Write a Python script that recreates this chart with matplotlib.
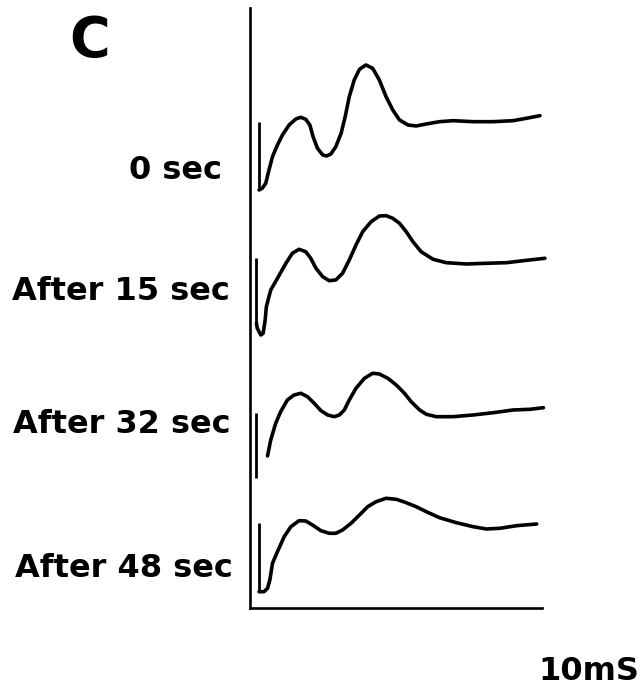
import numpy as np
import matplotlib
matplotlib.use("Agg")
import matplotlib.pyplot as plt

# time (ms) and amplitude (arbitrary units, relative to each trace's baseline)
labels = ["0 sec", "After 15 sec", "After 32 sec", "After 48 sec"]
offsets = [48.6, 34.6, 19.3, 8.3]

# stimulus artifact: time, top, bottom
stim_t = [0.31, 0.22, 0.19, 0.31]
stim_top = [0.0, 0.37, 0.17, 0.17]
stim_bottom = [-6.8, -6.13, -6.33, -6.67]

t0 = [0.31, 0.42, 0.54, 0.65, 0.77, 0.94, 1.11, 1.34, 1.57, 1.74, 1.91, 2.05, 2.16, 2.31,
      2.49, 2.62, 2.77, 2.94, 3.12, 3.26, 3.40, 3.57, 3.75, 3.97, 4.20, 4.43, 4.66, 4.89,
      5.12, 5.41, 5.69, 6.04, 6.49, 6.95, 7.64, 8.33, 9.01, 9.47, 9.93]
v0 = [-6.8, -6.63, -6.13, -4.8, -3.47, -2.3, -1.3, -0.3, 0.3, 0.47, 0.27, -0.3, -1.47, -2.63,
      -3.3, -3.4, -3.2, -2.47, -1.13, 0.53, 2.53, 4.2, 5.27, 5.7, 5.37, 4.2, 2.53, 1.2,
      0.2, -0.3, -0.4, -0.2, 0.03, 0.13, 0.03, 0.03, 0.13, 0.37, 0.63]

t15 = [0.22, 0.25, 0.37, 0.45, 0.52, 0.56, 0.71, 0.94, 1.23, 1.45, 1.68, 1.91, 2.08, 2.26,
       2.49, 2.71, 2.94, 3.17, 3.40, 3.63, 3.86, 4.15, 4.43, 4.66, 4.89, 5.12, 5.35, 5.58,
       5.86, 6.27, 6.72, 7.41, 8.10, 8.79, 9.36, 10.10]
v15 = [-6.13, -6.63, -7.3, -7.13, -5.8, -4.47, -2.8, -1.63, -0.13, 0.87, 1.27, 1.03, 0.37, -0.63,
       -1.47, -1.87, -1.8, -1.13, 0.2, 1.7, 3.03, 4.03, 4.6, 4.63, 4.37, 3.87, 3.03, 2.03,
       1.03, 0.27, -0.07, -0.2, -0.13, -0.07, 0.13, 0.37]

t32 = [0.60, 0.71, 0.88, 1.05, 1.28, 1.51, 1.74, 1.97, 2.20, 2.43, 2.66, 2.89, 3.06, 3.23,
       3.40, 3.63, 3.92, 4.20, 4.43, 4.72, 5.01, 5.29, 5.52, 5.81, 6.04, 6.38, 6.95, 7.64,
       8.33, 9.01, 9.59, 10.05]
v32 = [-4.1, -2.5, -0.83, 0.33, 1.5, 2.0, 2.17, 1.83, 1.17, 0.43, 0.0, -0.17, 0.0, 0.5,
       1.5, 2.67, 3.67, 4.17, 4.1, 3.67, 3.0, 2.17, 1.33, 0.5, 0.07, -0.17, -0.17, 0.0,
       0.23, 0.5, 0.57, 0.73]

t48 = [0.31, 0.48, 0.60, 0.68, 0.77, 0.94, 1.17, 1.40, 1.68, 1.91, 2.14, 2.43, 2.71, 2.94,
       3.17, 3.46, 3.75, 4.03, 4.32, 4.66, 5.01, 5.35, 5.69, 6.04, 6.49, 7.07, 7.64, 8.10,
       8.56, 9.13, 9.82]
v48 = [-6.67, -6.67, -6.33, -5.5, -3.83, -2.67, -1.17, -0.17, 0.43, 0.4, 0.0, -0.57, -0.83, -0.83,
       -0.5, 0.17, 1.0, 1.83, 2.33, 2.67, 2.57, 2.23, 1.83, 1.33, 0.73, 0.23, -0.17, -0.4,
       -0.33, -0.07, 0.1]

times = [t0, t15, t32, t48]
values = [v0, v15, v32, v48]

fig = plt.figure(figsize=(6.43, 6.87), dpi=100)
ax = fig.add_axes([0.3888, 0.1150, 0.4541, 0.8734])

for i in range(4):
    ax.plot(times[i], np.array(values[i]) + offsets[i], color="black", lw=2.6,
            solid_joinstyle="round", solid_capstyle="round", clip_on=False)
    ax.vlines(stim_t[i], stim_bottom[i] + offsets[i], stim_top[i] + offsets[i],
              color="black", lw=2.0)

ax.set_xlim(0, 10)
ax.set_ylim(0, 60)
ax.spines["top"].set_visible(False)
ax.spines["right"].set_visible(False)
ax.spines["left"].set_linewidth(1.9)
ax.spines["bottom"].set_linewidth(1.9)
ax.set_xticks([])
ax.set_yticks([])

font = dict(family="DejaVu Sans", weight="bold")
fig.text(0.140, 0.9185, "C", fontsize=40, ha="center", va="baseline", **font)
label_x = [0.345, 0.358, 0.358, 0.362]
label_y = [0.7394, 0.5633, 0.3697, 0.1601]
for i in range(4):
    fig.text(label_x[i], label_y[i], labels[i], fontsize=23, ha="right", va="baseline", **font)
fig.text(0.915, 0.0102, "10mS", fontsize=23, ha="center", va="baseline", **font)

plt.savefig("out.png", dpi=100)
